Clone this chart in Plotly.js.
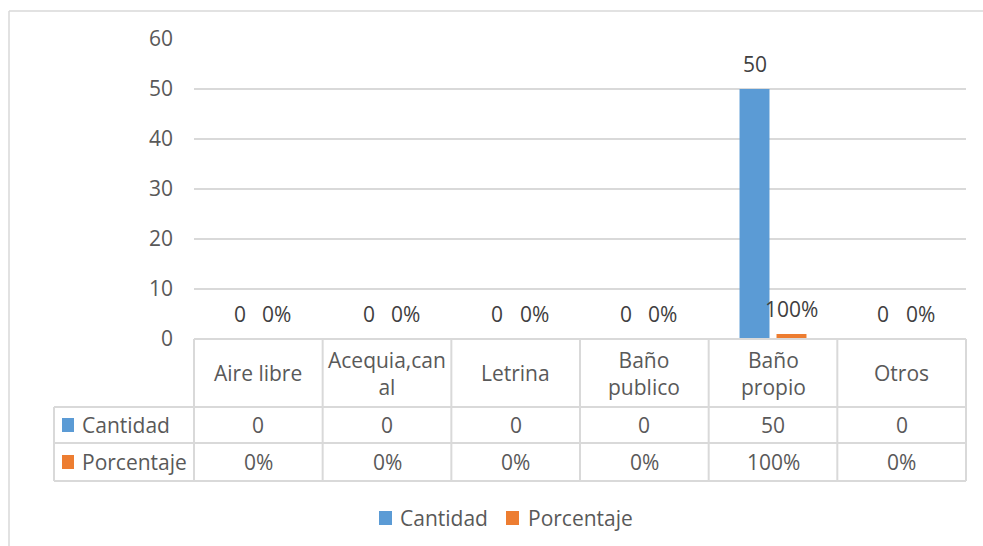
<!DOCTYPE html>
<html>
<head>
<meta charset="utf-8">
<script src="https://cdn.plot.ly/plotly-3.0.1.min.js"></script>
<style>html,body{margin:0;padding:0;background:#fff;}#chart{width:983px;height:546px;}</style>
</head>
<body>
<div id="chart"></div>
<script>
const categories = ["Aire libre", "Acequia,canal", "Letrina", "Baño publico", "Baño propio", "Otros"];
const categoryLabels = ["Aire libre", "Acequia,can<br>al", "Letrina", "Baño<br>publico", "Baño<br>propio", "Otros"];
const cantidad = [0, 0, 0, 0, 50, 0];
const porcentaje = [0, 0, 0, 0, 1, 0];
const seriesNames = ["Cantidad", "Porcentaje"];
const yTicks = [0, 10, 20, 30, 40, 50, 60];

const BLUE = "#5b9bd5", ORANGE = "#ed7d31", GRID = "#d9d9d9", TXT = "#595959";
const FONT = "Open Sans";
const FS = 21;

const pct = v => Math.round(v * 100) + "%";

const traces = [
  {type: "bar", name: seriesNames[0], x: categories, y: cantidad, marker: {color: BLUE}, hoverinfo: "skip"},
  {type: "bar", name: seriesNames[1], x: categories, y: porcentaje, marker: {color: ORANGE}, hoverinfo: "skip"}
];

// geometry helpers (plot area = 194..966 x, 39..339 y)
const px2x = p => (p - 194) / 772;
const px2y = p => (339 - p) / 300;
const leftX = px2x(54);
const rowLines = [px2y(407), px2y(443), px2y(481)];
const rowCat = px2y(373), rowQ = px2y(425), rowP = px2y(462);

const shapes = [];
const lineStyle = {color: GRID, width: 2};
// outer chart border
shapes.push({type: "line", xref: "paper", yref: "paper", x0: px2x(9), x1: px2x(1000), y0: px2y(11), y1: px2y(11), line: {color: GRID, width: 1.5}});
shapes.push({type: "line", xref: "paper", yref: "paper", x0: px2x(9), x1: px2x(9), y0: px2y(11), y1: px2y(560), line: {color: GRID, width: 1.5}});
// table verticals
for (let k = 0; k <= categories.length; k++) {
  const xk = k / categories.length;
  shapes.push({type: "line", xref: "paper", yref: "paper", x0: xk, x1: xk, y0: 0, y1: rowLines[2], line: lineStyle});
}
shapes.push({type: "line", xref: "paper", yref: "paper", x0: leftX, x1: leftX, y0: rowLines[0], y1: rowLines[2], line: lineStyle});
// table horizontals
shapes.push({type: "line", xref: "paper", yref: "paper", x0: 0, x1: 1, y0: 0, y1: 0, line: lineStyle});
rowLines.forEach(y => shapes.push({type: "line", xref: "paper", yref: "paper", x0: leftX, x1: 1, y0: y, y1: y, line: lineStyle}));
// row header keys
shapes.push({type: "rect", xref: "paper", yref: "paper", x0: px2x(62), x1: px2x(74), y0: px2y(432), y1: px2y(418), line: {width: 0}, fillcolor: BLUE});
shapes.push({type: "rect", xref: "paper", yref: "paper", x0: px2x(62), x1: px2x(74), y0: px2y(469), y1: px2y(455), line: {width: 0}, fillcolor: ORANGE});
// legend keys
shapes.push({type: "rect", xref: "paper", yref: "paper", x0: px2x(379), x1: px2x(392), y0: px2y(525), y1: px2y(511), line: {width: 0}, fillcolor: BLUE});
shapes.push({type: "rect", xref: "paper", yref: "paper", x0: px2x(506), x1: px2x(519), y0: px2y(525), y1: px2y(511), line: {width: 0}, fillcolor: ORANGE});

const annotations = [];
const tf = {family: FONT, size: FS, color: TXT};
const lf = {family: FONT, size: FS, color: "#404040"};
categories.forEach((c, i) => {
  const xc = (i + 0.5) / categories.length;
  annotations.push({xref: "paper", yref: "paper", x: xc, y: rowCat, text: categoryLabels[i], showarrow: false, font: tf, xanchor: "center", yanchor: "middle"});
  annotations.push({xref: "paper", yref: "paper", x: xc, y: rowQ, text: String(cantidad[i]), showarrow: false, font: tf, xanchor: "center", yanchor: "middle"});
  annotations.push({xref: "paper", yref: "paper", x: xc, y: rowP, text: pct(porcentaje[i]), showarrow: false, font: tf, xanchor: "center", yanchor: "middle"});
  // data labels above bars
  annotations.push({xref: "x", yref: "y", x: c, y: cantidad[i], text: String(cantidad[i]), showarrow: false, font: lf, xanchor: "center", yanchor: "middle", xshift: -18.5, yshift: 25});
  annotations.push({xref: "x", yref: "y", x: c, y: porcentaje[i], text: pct(porcentaje[i]), showarrow: false, font: lf, xanchor: "center", yanchor: "middle", xshift: 18.5, yshift: 25});
});
annotations.push({xref: "paper", yref: "paper", x: px2x(80), y: rowQ, text: seriesNames[0], showarrow: false, font: tf, xanchor: "left", yanchor: "middle"});
annotations.push({xref: "paper", yref: "paper", x: px2x(80), y: rowP, text: seriesNames[1], showarrow: false, font: tf, xanchor: "left", yanchor: "middle"});
// legend texts
annotations.push({xref: "paper", yref: "paper", x: px2x(398), y: px2y(518), text: seriesNames[0], showarrow: false, font: tf, xanchor: "left", yanchor: "middle"});
annotations.push({xref: "paper", yref: "paper", x: px2x(526), y: px2y(518), text: seriesNames[1], showarrow: false, font: tf, xanchor: "left", yanchor: "middle"});

const layout = {
  width: 983, height: 546,
  margin: {l: 194, r: 17, t: 39, b: 207, pad: 0, autoexpand: false},
  paper_bgcolor: "#fff", plot_bgcolor: "#fff",
  font: {family: FONT, size: FS, color: TXT},
  barmode: "group", bargap: 0.425, bargroupgap: 0.19,
  xaxis: {type: "category", categoryarray: categories, showticklabels: false, showgrid: false, zeroline: false, showline: false, ticks: ""},
  yaxis: {range: [0, 60], tickvals: yTicks, showgrid: true, gridcolor: GRID, gridwidth: 1.5, zeroline: false, showline: false, ticks: "", ticklabelstandoff: 20, tickfont: {family: FONT, size: FS, color: TXT}},
  showlegend: false,
  shapes: shapes,
  annotations: annotations
};

Plotly.newPlot("chart", traces, layout, {displayModeBar: false, staticPlot: true});
</script>
</body>
</html>
